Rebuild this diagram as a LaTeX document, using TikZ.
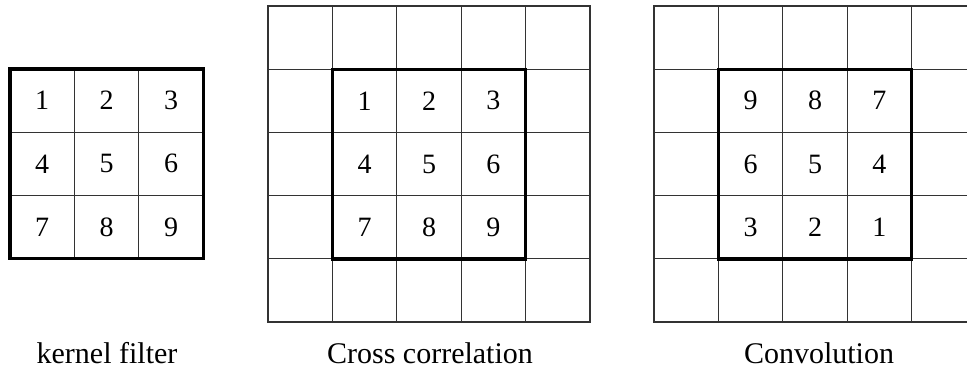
\documentclass[tikz,border=0pt]{standalone}
\usepackage{fontspec}
\setmainfont{Liberation Serif}

\begin{document}
\begin{tikzpicture}[
    x=1pt, y=-1pt,
    cell/.style={draw=black!80, line width=1.2pt, minimum width=64.4pt, minimum height=63.2pt,
      inner sep=0pt, outer sep=0pt, anchor=north west, font=\fontsize{28}{28}\selectfont},
    frame/.style={draw=black, line width=3.4pt},
    caption/.style={font=\fontsize{30}{30}\selectfont, anchor=base}
  ]
    \clip (0,0) rectangle (967,370);

    % kernel filter
    \foreach \r in {1,2,3}
      \foreach \c in {1,2,3}{
        \pgfmathtruncatemacro{\v}{3*(\r-1)+\c}
        \node[cell] (k-\r-\c) at ({10+64.4*(\c-1)}, {69+63.2*(\r-1)}) {\v};
      }
    \draw[frame] (k-1-1.north west) rectangle (k-3-3.south east);

    % cross correlation
    \foreach \r in {1,...,5}
      \foreach \c in {1,...,5}{
        \pgfmathtruncatemacro{\v}{3*(\r-2)+\c-1}
        \node[cell] (x-\r-\c) at ({268+64.4*(\c-1)}, {6+63.2*(\r-1)})
          {\ifnum\r>1 \ifnum\r<5 \ifnum\c>1 \ifnum\c<5 \v\fi\fi\fi\fi};
      }
    \draw[frame] (x-2-2.north west) rectangle (x-4-4.south east);

    % convolution (kernel flipped)
    \foreach \r in {1,...,5}
      \foreach \c in {1,...,5}{
        \pgfmathtruncatemacro{\v}{10-(3*(\r-2)+\c-1)}
        \node[cell] (v-\r-\c) at ({654+64.4*(\c-1)}, {6+63.2*(\r-1)})
          {\ifnum\r>1 \ifnum\r<5 \ifnum\c>1 \ifnum\c<5 \v\fi\fi\fi\fi};
      }
    \draw[frame] (v-2-2.north west) rectangle (v-4-4.south east);

    % captions
    \node[caption] (kcap) at (107,363) {kernel filter};
    \node[caption] (xcap) at (430,363) {Cross correlation};
    \node[caption] (vcap) at (819,363) {Convolution};
  \end{tikzpicture}
\end{document}
